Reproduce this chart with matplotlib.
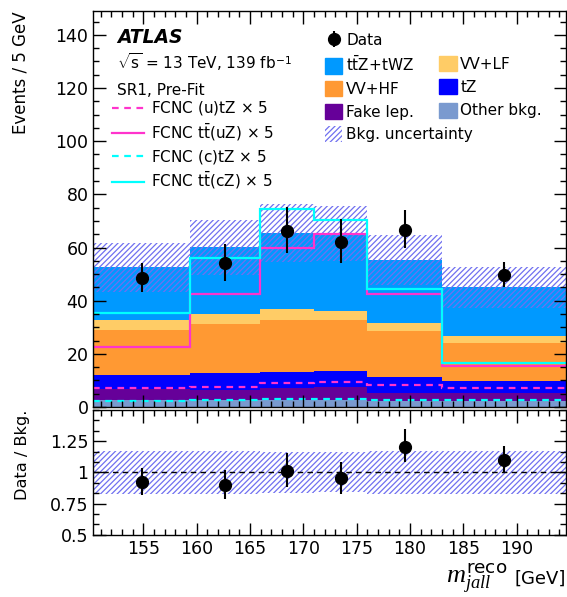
import numpy as np
import matplotlib
matplotlib.use("Agg")
from matplotlib import pyplot as plt
from matplotlib.lines import Line2D
from matplotlib.patches import Patch
from matplotlib.ticker import MultipleLocator, FixedLocator, FuncFormatter

plt.rcParams['font.family'] = ['DejaVu Sans']
plt.rcParams['mathtext.fontset'] = 'custom'
plt.rcParams['mathtext.rm'] = 'DejaVu Sans'
plt.rcParams['mathtext.it'] = 'Liberation Serif:italic'
plt.rcParams['mathtext.bf'] = 'DejaVu Sans:bold'
plt.rcParams['hatch.linewidth'] = 0.9

# bin edges of m_jall^reco [GeV]
edges = np.array([150.3, 159.4, 165.9, 171.0, 176.0, 183.0, 194.6])

# stacked backgrounds (bottom -> top)
other_bkg = np.array([2.5, 2.5, 2.6, 2.7, 2.4, 2.4])
fake_lep = np.array([4.3, 4.0, 4.5, 4.8, 2.9, 2.7])
tz = np.array([5.4, 6.2, 6.0, 6.0, 5.9, 4.8])
vv_hf = np.array([16.8, 18.6, 19.6, 19.1, 17.2, 14.0])
vv_lf = np.array([3.6, 3.5, 4.0, 3.7, 3.2, 2.8])
ttz_twz = np.array([20.0, 25.3, 28.6, 29.0, 23.7, 18.4])
bkg_unc = np.array([9.2, 10.4, 10.9, 10.4, 9.4, 7.7])

# FCNC signals (x5), drawn on their own
fcnc_utz = np.array([7.2, 7.7, 9.0, 9.3, 8.4, 7.2])
fcnc_ttuz = np.array([22.6, 42.5, 59.9, 65.0, 42.5, 15.4])
fcnc_ctz = np.array([2.4, 2.5, 2.9, 2.9, 2.7, 2.5])
fcnc_ttcz = np.array([35.2, 56.0, 74.6, 70.5, 44.4, 16.4])

# data
data = np.array([48.5, 54.1, 66.2, 62.2, 66.5, 49.7])
data_err_lo = np.array([5.4, 6.6, 8.4, 8.1, 6.8, 4.6])
data_err_hi = np.array([5.8, 7.2, 9.0, 8.7, 7.8, 5.0])

stack_names = ['Other bkg.', 'Fake lep.', 'tZ', 'VV+HF', 'VV+LF', r't$\bar{\mathrm{t}}$Z+tWZ']
stack_vals = [other_bkg, fake_lep, tz, vv_hf, vv_lf, ttz_twz]
stack_cols = ['#7a9acf', '#660099', '#0000ff', '#ff9933', '#ffcc66', '#0099ff']

hatch_col = '#7070f0'
col_u = '#ff33cc'
col_c = '#00ffff'
dash = (0, (3, 2.5))

centers = 0.5 * (edges[:-1] + edges[1:])
total = np.sum(stack_vals, axis=0)

fig = plt.figure(figsize=(5.67, 5.97), dpi=100)
ax = fig.add_axes([0.1646, 0.3183, 0.833, 0.6633])
rax = fig.add_axes([0.1646, 0.1043, 0.833, 0.2090], sharex=ax)

# stacked histogram
base = np.zeros(len(centers))
for vals, col in zip(stack_vals, stack_cols):
    ax.stairs(base + vals, edges, baseline=base, fill=True, color=col, lw=0)
    base = base + vals

ax.stairs(total + bkg_unc, edges, baseline=total - bkg_unc, fill=True,
          facecolor='none', edgecolor=hatch_col, hatch='//////', lw=0)

ax.stairs(fcnc_utz, edges, baseline=None, color=col_u, lw=1.6, ls=dash)
ax.stairs(fcnc_ttuz, edges, baseline=None, color=col_u, lw=1.6)
ax.stairs(fcnc_ctz, edges, baseline=None, color=col_c, lw=1.6, ls=dash)
ax.stairs(fcnc_ttcz, edges, baseline=None, color=col_c, lw=1.6)

dat = ax.errorbar(centers, data, yerr=[data_err_lo, data_err_hi], fmt='o', color='k',
                  ms=8.5, elinewidth=1.5, capsize=0)

ax.set_xlim(edges[0], edges[-1])
ax.set_ylim(0, 149)
ax.set_ylabel('Events / 5 GeV', loc='top', fontsize=12)
ax.yaxis.set_major_locator(MultipleLocator(20))
ax.yaxis.set_minor_locator(MultipleLocator(5))
ax.xaxis.set_major_locator(MultipleLocator(5))
ax.xaxis.set_minor_locator(MultipleLocator(1))
plt.setp(ax.get_xticklabels(), visible=False)

# ratio panel
ratio = data / total
rel_unc = bkg_unc / total
rax.stairs(1 + rel_unc, edges, baseline=1 - rel_unc, fill=True,
           facecolor='none', edgecolor=hatch_col, hatch='//////', lw=0)
rax.axhline(1, color='k', lw=1, ls=(0, (4, 3)))
rax.errorbar(centers, ratio, yerr=[data_err_lo / total, data_err_hi / total], fmt='o',
             color='k', ms=8.5, elinewidth=1.5, capsize=0)
rax.set_ylim(0.5, 1.5)
rax.yaxis.set_major_locator(FixedLocator([0.5, 0.75, 1.0, 1.25]))
rax.yaxis.set_minor_locator(MultipleLocator(0.25 / 3))
rax.yaxis.set_major_formatter(FuncFormatter(lambda v, p: '{:g}'.format(v)))
rax.set_ylabel('Data / Bkg.', loc='top', fontsize=11.6)

# x axis title: big italic m, then unit
rax.text(0.876, -0.394, r'$m_{jall}^{\mathrm{reco}}$', transform=rax.transAxes,
         fontsize=19, ha='right', va='baseline')
rax.text(1.0, -0.394, '[GeV]', transform=rax.transAxes, fontsize=13,
         ha='right', va='baseline')

for a in (ax, rax):
    a.tick_params(which='both', direction='in', top=True, right=True, labelsize=12.5)
    a.tick_params(which='major', length=9, width=1)
    a.tick_params(which='minor', length=4.5, width=1)
    for s in a.spines.values():
        s.set_linewidth(1)
ax.yaxis.set_label_coords(-0.135, 1)
rax.yaxis.set_label_coords(-0.135, 1)

# labels
ax.text(0.05, 0.934, 'ATLAS', transform=ax.transAxes, fontsize=13.5,
        fontweight='bold', fontstyle='italic', va='center')
ax.text(0.05, 0.871, r'$\sqrt{\mathrm{s}}$ = 13 TeV, 139 fb$^{-1}$', transform=ax.transAxes,
        fontsize=11, va='center')
ax.text(0.05, 0.80, 'SR1, Pre-Fit', transform=ax.transAxes, fontsize=11, va='center')

left_handles = [Line2D([], [], color=col_u, lw=1.6, ls=dash),
                Line2D([], [], color=col_u, lw=1.6),
                Line2D([], [], color=col_c, lw=1.6, ls=dash),
                Line2D([], [], color=col_c, lw=1.6)]
left_labels = [r'FCNC (u)tZ $\times$ 5', r'FCNC t$\bar{\mathrm{t}}$(uZ) $\times$ 5',
               r'FCNC (c)tZ $\times$ 5', r'FCNC t$\bar{\mathrm{t}}$(cZ) $\times$ 5']
leg1 = ax.legend(left_handles, left_labels, loc='upper left', bbox_to_anchor=(0.04, 0.7765),
                 frameon=False, fontsize=11, handlelength=2.1, handletextpad=0.45,
                 labelspacing=0.3, borderpad=0, borderaxespad=0)
ax.add_artist(leg1)

box_kw = dict(frameon=False, fontsize=11, handlelength=1.15, handleheight=1.15,
              handletextpad=0.25, borderpad=0, borderaxespad=0, loc='upper left')
h_col1 = [dat, Patch(color=stack_cols[5]), Patch(color=stack_cols[3]),
          Patch(color=stack_cols[1]),
          Patch(facecolor='none', edgecolor=hatch_col, hatch='//////', lw=0)]
l_col1 = ['Data', stack_names[5], stack_names[3], stack_names[1], 'Bkg. uncertainty']
leg2 = ax.legend(h_col1, l_col1, bbox_to_anchor=(0.49, 0.9457), labelspacing=0.45, **box_kw)
ax.add_artist(leg2)
h_col2 = [Patch(color=stack_cols[4]), Patch(color=stack_cols[2]), Patch(color=stack_cols[0])]
l_col2 = [stack_names[4], stack_names[2], stack_names[0]]
leg3 = ax.legend(h_col2, l_col2, bbox_to_anchor=(0.7318, 0.8865), labelspacing=0.5, **box_kw)

fig.savefig('out.png', dpi=100)
